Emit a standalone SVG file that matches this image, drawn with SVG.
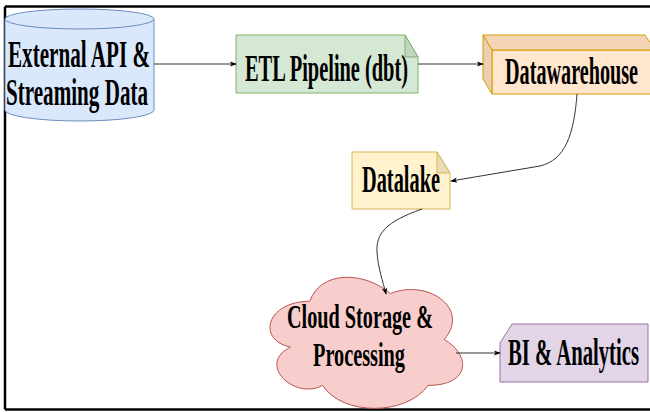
<svg xmlns="http://www.w3.org/2000/svg" width="650" height="412" viewBox="0 0 650 412">
<defs>
<style>
.t{font-family:"Liberation Serif","Times New Roman",serif;font-weight:bold;font-size:37px;fill:#000;text-anchor:start}
.s{font-size:34px}
.c{fill:none;stroke:#333;stroke-width:1}
</style>
<marker id="ah" viewBox="0 0 8 8" refX="7" refY="4" markerWidth="7" markerHeight="7" markerUnits="userSpaceOnUse" orient="auto">
<path d="M0 1 L8 4 L0 7 L2 4 Z" fill="#000"/>
</marker>
</defs>
<rect x="0" y="0" width="650" height="412" fill="#fff"/>
<path d="M5 6.5 H652 M5 6.5 V409.5 M5 409.5 H652" fill="none" stroke="#000" stroke-width="2.5"/>

<g id="external-api">
<path d="M5 19 V110 A74.5 11 0 0 0 154 110 V19" fill="#dae8fc" stroke="#6c8ebf" stroke-width="1"/>
<ellipse cx="79.5" cy="19" rx="74.5" ry="10" fill="#dae8fc" stroke="#6c8ebf" stroke-width="1"/>
<text class="t" transform="translate(8 67) scale(0.6 1)" textLength="236.7" lengthAdjust="spacingAndGlyphs">External API &amp;</text>
<text class="t" transform="translate(6 105) scale(0.6 1)" textLength="236.7" lengthAdjust="spacingAndGlyphs">Streaming Data</text>
</g>

<g id="etl">
<path d="M236 35 H405 L418 57 V93 H236 Z" fill="#d5e8d4" stroke="#82b366" stroke-width="1"/>
<path d="M405 35 V57 H418 Z" fill="#c3d6c2" stroke="#82b366" stroke-width="1"/>
<text class="t" transform="translate(245 81) scale(0.6 1)" textLength="271.7" lengthAdjust="spacingAndGlyphs">ETL Pipeline (dbt)</text>
</g>

<g id="datawarehouse">
<path d="M492 50 H655 V94 H492 Z" fill="#ffe6cc" stroke="#d79b00" stroke-width="1"/>
<path d="M483 35 H645 L655 50 H492 Z" fill="#f3d5b6" stroke="#d79b00" stroke-width="1"/>
<path d="M483 35 L492 50 V94 L483 79 Z" fill="#ebcfb2" stroke="#d79b00" stroke-width="1"/>
<text class="t" transform="translate(505 84) scale(0.6 1)" textLength="221.7" lengthAdjust="spacingAndGlyphs">Datawarehouse</text>
</g>

<g id="datalake">
<path d="M352 152 H437 L450 173 V209 H352 Z" fill="#fff2cc" stroke="#d6b656" stroke-width="1"/>
<path d="M437 152 V173 H450 Z" fill="#ebdcb3" stroke="#d6b656" stroke-width="1"/>
<text class="t" transform="translate(362 192) scale(0.6 1)" textLength="130" lengthAdjust="spacingAndGlyphs">Datalake</text>
</g>

<g id="cloud">
<path transform="translate(256 263) scale(215 153)" vector-effect="non-scaling-stroke" d="M0.25 0.25 C0.05 0.25 0 0.5 0.16 0.55 C0 0.66 0.18 0.9 0.31 0.8 C0.4 1 0.7 1 0.8 0.8 C1 0.8 1 0.6 0.875 0.5 C1 0.3 0.8 0.1 0.625 0.2 C0.5 0.05 0.3 0.05 0.25 0.25 Z" fill="#f8cecc" stroke="#b85450" stroke-width="1"/>
<text class="t s" transform="translate(287 328) scale(0.6 1)" textLength="243.3" lengthAdjust="spacingAndGlyphs">Cloud Storage &amp;</text>
<text class="t s" transform="translate(313 366) scale(0.6 1)" textLength="153.3" lengthAdjust="spacingAndGlyphs">Processing</text>
</g>

<g id="bi">
<path d="M512 324 H648 V382 H500 V343 Z" fill="#e1d5e7" stroke="#9673a6" stroke-width="1"/>
<text class="t" transform="translate(508 365) scale(0.6 1)" textLength="218.3" lengthAdjust="spacingAndGlyphs">BI &amp; Analytics</text>
</g>

<g id="connectors">
<path class="c" d="M154 64 H236" marker-end="url(#ah)"/>
<path class="c" d="M418 64 H483" marker-end="url(#ah)"/>
<path class="c" d="M577 94 C574 135 565 160 540 166 L451 181" marker-end="url(#ah)"/>
<path class="c" d="M422 209 C385 222 376 234 377 252 C378 268 383 282 386 294" marker-end="url(#ah)"/>
<path class="c" d="M456 353 H500" marker-end="url(#ah)"/>
</g>
</svg>
